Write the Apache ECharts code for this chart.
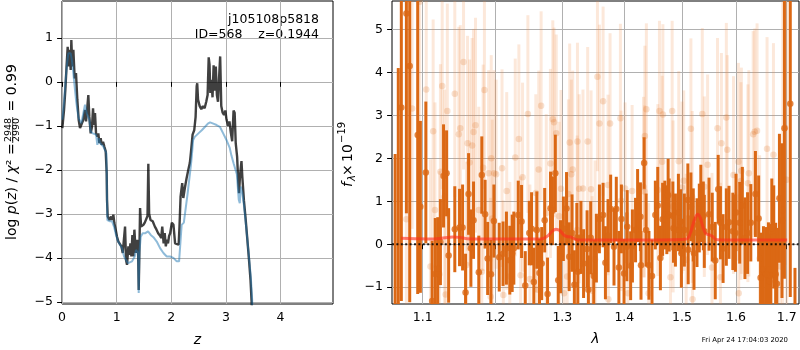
<!DOCTYPE html>
<html><head><meta charset="utf-8">
<script src="https://cdn.jsdelivr.net/npm/echarts@6/dist/echarts.min.js"></script>
<style>html,body{margin:0;padding:0;background:#fff}#c{width:800px;height:350px}</style>
</head><body><div id="c"></div>
<script>
// ---------- Left panel: log p(z) ----------
const zDark = [0.006,0.037,0.061,0.085,0.104,0.122,0.140,0.159,0.171,0.189,0.208,0.232,0.256,0.281,0.305,0.330,0.360,0.390,0.421,0.440,0.464,0.482,0.500,0.525,0.549,0.568,0.586,0.604,0.623,0.647,0.665,0.684,0.708,0.726,0.751,0.775,0.800,0.818,0.824,0.836,0.867,0.897,0.916,0.940,0.958,0.983,1.007,1.032,1.062,1.087,1.111,1.136,1.154,1.172,1.190,1.215,1.233,1.252,1.270,1.288,1.306,1.325,1.349,1.374,1.392,1.404,1.416,1.429,1.447,1.470,1.490,1.515,1.540,1.565,1.580,1.595,1.620,1.660,1.700,1.730,1.760,1.795,1.815,1.835,1.860,1.880,1.900,1.920,1.940,1.960,1.980,2.010,2.040,2.070,2.100,2.135,2.150,2.170,2.200,2.220,2.250,2.280,2.310,2.340,2.360,2.390,2.420,2.445,2.465,2.475,2.490,2.520,2.550,2.580,2.610,2.640,2.665,2.685,2.700,2.715,2.735,2.755,2.775,2.795,2.815,2.835,2.855,2.875,2.895,2.915,2.940,2.965,2.990,3.010,3.040,3.065,3.090,3.115,3.140,3.160,3.180,3.205,3.225,3.240,3.260,3.285,3.300,3.330,3.360,3.390,3.420,3.450,3.470,3.490,3.500];
const logpDark = [-1.05,-0.64,-0.18,0.39,0.80,0.35,0.73,0.27,0.95,0.35,0.73,0.08,0.20,-0.41,-0.86,-1.05,-1.05,-0.86,-0.64,-0.90,-0.56,-0.30,-0.79,-1.17,-1.02,-0.60,-0.98,-0.71,-1.17,-1.24,-1.17,-1.39,-1.28,-1.43,-1.36,-1.47,-1.58,-2.08,-2.68,-3.06,-3.14,-3.06,-3.14,-3.02,-3.21,-3.36,-3.52,-3.63,-3.67,-3.74,-3.89,-3.86,-3.29,-4.05,-4.16,-3.74,-3.93,-3.67,-3.97,-3.48,-3.97,-3.36,-3.89,-3.59,-3.82,-4.73,-3.89,-2.87,-3.29,-3.28,-3.25,-3.20,-3.17,-3.05,-1.86,-3.00,-3.14,-3.17,-3.29,-3.36,-3.44,-3.50,-3.55,-3.29,-3.67,-3.44,-3.74,-3.59,-3.67,-3.50,-3.44,-3.20,-3.25,-3.67,-3.70,-3.70,-3.30,-2.61,-2.30,-2.64,-2.40,-2.19,-2.01,-1.84,-1.60,-1.20,-1.10,-0.80,-0.10,-0.03,-0.40,-0.55,-0.62,-0.55,-0.60,-0.45,-0.30,0.56,0.40,-0.25,0.05,-0.35,0.38,-0.20,0.35,-0.30,-0.45,0.10,0.58,-0.55,-0.70,-0.75,-0.65,-0.85,-1.00,-0.90,-1.15,-1.35,-0.65,-0.70,-1.40,-1.70,-2.25,-2.53,-2.10,-1.80,-2.15,-2.70,-3.10,-3.55,-4.00,-4.50,-5.00,-5.40,-5.60];
const zBlue = [0.006,0.040,0.070,0.095,0.116,0.140,0.159,0.180,0.195,0.215,0.238,0.260,0.281,0.300,0.317,0.354,0.390,0.421,0.452,0.476,0.500,0.525,0.562,0.586,0.623,0.647,0.672,0.696,0.726,0.757,0.788,0.812,0.818,0.824,0.830,0.879,0.916,0.952,0.989,1.026,1.062,1.099,1.136,1.172,1.209,1.245,1.282,1.306,1.331,1.355,1.380,1.392,1.404,1.416,1.441,1.477,1.526,1.575,1.624,1.673,1.734,1.795,1.856,1.917,1.978,2.039,2.100,2.143,2.190,2.230,2.300,2.357,2.375,2.400,2.430,2.497,2.558,2.619,2.670,2.710,2.770,2.830,2.890,2.950,3.010,3.070,3.100,3.140,3.200,3.235,3.254,3.270,3.300,3.333,3.370,3.410,3.455,3.480,3.490,3.500];
const logpBlue = [-0.86,-0.40,0.10,0.45,0.65,0.68,0.65,0.50,0.35,0.10,-0.18,-0.45,-0.64,-0.80,-0.86,-0.94,-0.71,-0.52,-0.71,-0.79,-0.86,-1.13,-1.17,-1.17,-1.20,-1.43,-1.28,-1.39,-1.39,-1.47,-1.51,-1.62,-2.08,-2.68,-3.14,-3.17,-3.17,-3.29,-3.48,-3.63,-3.70,-3.78,-3.97,-4.05,-4.12,-4.12,-4.08,-4.12,-3.97,-3.82,-3.78,-3.89,-4.80,-3.89,-3.52,-3.44,-3.44,-3.40,-3.48,-3.53,-3.63,-3.78,-3.89,-3.97,-3.97,-4.00,-4.08,-4.08,-3.25,-3.20,-2.53,-1.92,-1.70,-1.32,-1.25,-1.17,-1.10,-1.02,-0.95,-0.92,-0.95,-0.98,-1.02,-1.17,-1.32,-1.50,-1.67,-1.85,-2.10,-2.68,-2.76,-2.38,-2.53,-2.83,-3.29,-3.82,-4.42,-4.95,-5.41,-5.60];
const zTicks = [0, 1, 2, 3, 4];
const logpTicks = [-5, -4, -3, -2, -1, 0, 1];

// ---------- Right panel: spectrum ----------
const specLamDark = [1.0644,1.0684,1.0723,1.0788,1.0831,1.0935,1.0970,1.1042,1.1125,1.1167,
1.1200,1.1236,1.1278,1.1319,1.1347,1.1431,1.1496,1.1538,1.1579,1.1621,
1.1653,1.1690,1.1764,1.1806,1.1853,1.1889,1.1936,1.1978,1.2055,1.2110,
1.2159,1.2208,1.2243,1.2332,1.2381,1.2436,1.2496,1.2530,1.2564,1.2609,
1.2649,1.2683,1.2728,1.2772,1.2817,1.2847,1.2891,1.2936,1.2971,1.3016,
1.3065,1.3107,1.3151,1.3188,1.3243,1.3292,1.3334,1.3390,1.3411,1.3497,
1.3589,1.3649,1.3687,1.3773,1.3828,1.3866,1.3909,1.3951,1.3995,1.4048,
1.4106,1.4189,1.4224,1.4272,1.4335,1.4471,1.4529,1.4571,1.4617,1.4656,
1.4695,1.4753,1.4847,1.4935,1.4974,1.5105,1.5160,1.5203,1.5271,1.5341,
1.5387,1.5492,1.5552,1.5608,1.5663,1.5705,1.5755,1.5816,1.5866,1.5940,
1.6000,1.6071,1.6122,1.6172,1.6286,1.6376,1.6439,1.6477,1.6534,1.6586,
1.6633,1.6681,1.6777,1.6853,1.6904,1.6954,1.7073,1.7169,
1.2267,1.3227,1.3448,1.3540,1.3730,1.4042,1.4136,1.4282,1.4370,1.4418,
1.4730,1.4771,1.4836,1.4882,1.4988,1.5042,1.5111,1.5216,1.5313,1.5405,
1.5989,1.6223,1.6650,1.6700,1.6739,1.6802];
const specFluxDark = [-1.8,-1.6,3.18,5.37,4.15,2.54,0.87,1.67,-1.32,-0.69,
-0.57,0.05,1.59,1.65,-0.26,0.35,0.39,0.39,-1.12,1.17,
-0.09,0.56,-0.65,1.61,0.70,-0.33,-0.70,0.54,-0.30,-0.22,
-0.09,-0.37,-0.21,0.68,0.53,-0.96,0.26,0.36,-0.88,0.33,
-0.67,-0.45,0.56,-1.16,0.84,0.78,1.65,-0.84,-0.29,0.36,
0.83,-0.29,0.26,-0.94,-0.64,0.16,-0.45,-0.11,-1.06,-0.74,
0.59,0.68,-0.43,0.82,-0.06,0.82,-0.54,0.59,-0.68,0.41,
-0.50,0.33,0.90,0.64,1.89,-0.74,0.68,0.90,-0.32,0.58,
0.68,1.14,0.37,0.74,0.53,1.03,0.87,0.45,0.27,0.95,
0.66,0.70,0.40,-0.38,1.28,0.50,-0.10,0.40,0.51,0.30,
0.74,0.50,0.90,0.14,0.50,1.17,0.60,-0.78,-0.58,-0.70,
-0.59,-0.73,-0.70,1.07,0.55,2.70,3.27,-2.00,
-0.09,0.16,0.15,-0.09,0.20,-0.06,-0.04,-0.49,0.33,-0.49,
0.57,0.68,0.66,0.33,-0.21,0.33,-0.13,-0.21,0.61,0.30,
0.26,0.26,-0.86,0.38,0.17,-0.92];
const specErrDark = [3.9,5.7,4.5,4.65,5.5,3.7,2.0,1.65,1.4,1.3,
1.2,1.0,1.2,1.0,1.1,1.0,0.9,1.0,0.9,0.95,
0.9,0.9,0.85,0.9,0.8,0.85,0.8,0.85,0.8,0.75,
0.85,0.8,0.9,0.8,0.85,0.8,0.75,0.85,0.8,0.9,
0.8,0.85,0.75,0.85,0.85,0.8,0.9,0.8,0.85,0.75,
0.85,0.8,0.9,0.8,0.75,0.85,0.8,0.9,0.8,0.85,
0.8,0.75,0.85,0.8,0.9,0.75,0.85,0.8,0.8,0.85,
0.8,0.75,0.85,0.8,0.6,0.85,0.8,0.9,0.75,0.85,
0.8,0.85,0.8,0.9,0.75,0.85,0.8,0.85,0.8,0.9,
0.8,0.85,0.8,0.9,0.8,0.85,0.8,0.9,0.85,0.9,
0.9,0.95,0.9,0.95,0.9,1.0,1.0,1.05,1.0,1.1,
1.1,1.2,1.2,1.5,1.8,3.5,4.5,1.45,
0.85,0.8,0.85,0.8,0.85,0.8,0.85,0.8,0.85,0.8,
0.8,0.85,0.8,0.85,0.8,0.85,0.8,0.85,0.8,0.85,
0.9,0.95,1.1,1.15,1.2,1.3];

const specLamFaint = [1.0788,1.0862,1.0961,1.1047,1.1103,1.1139,1.1163,1.1222,1.1236,1.1260,
1.1292,1.1306,1.1329,1.1431,1.1486,1.1506,1.1551,1.1593,1.1607,1.1635,
1.1670,1.1690,1.1718,1.1764,1.1806,1.1825,1.1843,1.1903,1.1931,1.1940,
1.1954,1.1982,1.2010,1.2095,1.2114,1.2163,1.2208,1.2288,1.2341,1.2367,
1.2396,1.2475,1.2505,1.2594,1.2614,1.2638,1.2674,1.2752,1.2816,1.2852,
1.2871,1.2905,1.2950,1.2979,1.3026,1.3075,1.3094,1.3114,1.3140,1.3162,
1.3232,1.3237,1.3264,1.3325,1.3399,1.3454,1.3471,1.3519,1.3557,1.3589,
1.3649,1.3730,1.3735,1.3763,1.3935,1.3946,1.4012,1.4060,1.4131,1.4325,
1.4342,1.4348,1.4374,1.4413,1.4572,1.4600,1.4648,1.4660,1.4794,1.4824,
1.4841,1.4942,1.5000,1.5031,1.5074,1.5160,1.5184,1.5190,1.5368,1.5405,
1.5466,1.5547,1.5650,1.5705,1.5723,1.5816,1.5834,1.5952,1.6046,1.6052,
1.6095,1.6103,1.6229,1.6248,1.6332,1.6362,1.6408,1.6458,1.6605,1.6733,
1.6872,1.6920,1.6968,1.7000];
const specFluxFaint = [0.58,3.16,5.64,3.60,-0.52,2.63,0.80,-0.70,1.69,3.68,
1.10,-1.17,3.10,3.50,2.56,2.70,4.24,-0.48,2.35,1.90,
2.30,2.61,2.77,0.80,-0.64,1.78,3.59,1.65,-1.22,2.00,
0.60,1.65,1.63,1.77,-1.18,1.24,-0.75,2.02,2.45,-0.72,
1.56,3.03,-0.81,1.19,-1.06,1.74,3.22,0.73,1.88,2.91,
2.84,2.58,0.65,1.29,-1.14,-0.75,1.17,2.37,1.63,1.74,
0.33,2.39,1.29,1.30,2.39,1.28,-1.08,-0.35,3.90,2.81,
3.33,1.38,-1.28,2.81,2.93,1.01,1.30,-1.14,1.24,1.33,
1.23,2.52,3.14,-1.14,1.26,3.10,1.92,3.02,-0.77,3.10,
0.88,1.93,1.32,1.48,-0.36,2.69,1.10,-1.28,3.03,1.34,
1.85,-0.54,2.70,-0.77,2.35,2.95,2.20,1.61,1.92,-1.14,
1.47,1.71,1.42,1.65,2.56,2.62,2.64,-0.33,2.22,2.08,
-0.52,0.80,2.71,1.50];
const specErrFaint = [3.0,2.8,3.0,2.6,2.5,2.6,2.5,2.4,2.5,2.4,
2.5,2.4,2.5,2.4,2.5,2.4,2.5,2.4,2.5,2.4,
2.5,2.4,2.5,2.4,2.3,2.4,2.3,2.4,2.3,2.4,
2.3,2.4,2.2,2.3,2.2,2.3,2.2,2.3,2.2,2.3,
2.2,2.3,2.2,2.3,2.2,2.3,2.2,2.3,2.2,2.3,
2.2,2.3,2.2,2.3,2.2,2.3,2.2,2.3,2.2,2.3,
2.2,2.3,2.2,2.3,2.2,2.3,2.2,2.3,2.2,2.3,
2.2,2.1,2.2,2.1,2.2,2.1,2.0,2.1,2.0,2.1,
2.0,2.1,2.0,2.1,2.0,2.1,2.0,2.1,2.0,2.1,
2.0,2.1,2.0,2.1,2.0,2.1,2.0,2.1,2.0,2.1,
2.1,2.2,2.1,2.2,2.1,2.2,2.2,2.3,2.3,2.3,
2.3,2.4,2.3,2.4,2.4,2.4,2.5,2.4,2.6,2.6,
2.7,5.0,3.2,5.0];

const modelLam = [1.072,1.09,1.11,1.125,1.14,1.15,1.16,1.18,1.20,1.22,1.24,1.26,1.270,1.278,1.284,1.290,1.296,1.302,1.307,1.313,1.318,1.325,1.35,1.40,1.45,1.50,1.510,1.516,1.522,1.528,1.533,1.538,1.543,1.550,1.556,1.562,1.58,1.62,1.66,1.701];
const modelFlux = [0.14,0.13,0.12,0.14,0.17,0.16,0.13,0.12,0.12,0.12,0.12,0.12,0.13,0.20,0.30,0.35,0.32,0.22,0.18,0.17,0.13,0.10,0.10,0.10,0.10,0.11,0.13,0.30,0.55,0.70,0.62,0.40,0.25,0.22,0.18,0.11,0.10,0.10,0.10,0.10];
const lamTicks = [1.1, 1.2, 1.3, 1.4, 1.5, 1.6, 1.7];
const fluxTicks = [-1, 0, 1, 2, 3, 4, 5];
const lamRange = [1.0604, 1.7252];

// ---------- build ----------
const FONT = '"DejaVu Sans", sans-serif';
const minus = v => String(v).replace('-', '\u2212');
const L = Math.log;
const ORANGE = '#db6814';

function axisCommon(ticks, fmt, margin) {
  return {
    axisLine: {show: false},
    axisTick: {show: true, inside: false, length: 4.9, lineStyle: {color: '#000', width: 1}, customValues: ticks},
    axisLabel: {customValues: ticks, formatter: fmt, color: '#000', fontFamily: FONT, fontSize: 12.5, margin: margin},
    splitLine: {show: true, lineStyle: {color: '#b0b0b0', width: 1}}
  };
}

function errRender(color, width) {
  return function (params, api) {
    const x = api.value(0), lo = api.value(1), hi = api.value(2);
    const p0 = api.coord([x, lo]), p1 = api.coord([x, hi]);
    const cs = params.coordSys;
    const top = Math.max(Math.min(p0[1], p1[1]), cs.y);
    const bot = Math.min(Math.max(p0[1], p1[1]), cs.y + cs.height);
    if (p0[0] < cs.x || p0[0] > cs.x + cs.width || top >= bot) return null;
    return {type: 'line', shape: {x1: p0[0], y1: top, x2: p0[0], y2: bot},
            style: {stroke: color, lineWidth: width}};
  };
}

const chart = echarts.init(document.getElementById('c'), null, {renderer: 'canvas'});
const gridStyle = {show: true, borderColor: '#000', borderWidth: 1, backgroundColor: 'transparent'};
const T = (x, y, text, font, align, rot) => ({type: 'text', x: x, y: y, rotation: rot || 0,
  style: {text: text, fill: '#000', font: font, align: align, verticalAlign: 'middle', textAlign: align, textVerticalAlign: 'middle'}});

const option = {
  animation: false,
  backgroundColor: '#fff',
  grid: [
    Object.assign({left: 62, top: 1, width: 271, height: 303}, gridStyle),
    Object.assign({left: 392, top: 1, width: 407, height: 303}, gridStyle)
  ],
  xAxis: [
    Object.assign({type: 'value', gridIndex: 0, min: 0, max: 4.96}, axisCommon(zTicks, v => minus(v), 7)),
    Object.assign({type: 'value', gridIndex: 1, min: L(lamRange[0]), max: L(lamRange[1])},
      axisCommon(lamTicks.map(L), v => Math.exp(v).toFixed(1), 7))
  ],
  yAxis: [
    Object.assign({type: 'value', gridIndex: 0, min: -5.05, max: 1.84}, axisCommon(logpTicks, v => minus(v), 9)),
    Object.assign({type: 'value', gridIndex: 1, min: -1.39, max: 5.66}, axisCommon(fluxTicks, v => minus(v), 9))
  ],
  series: [
    {type: 'line', xAxisIndex: 0, yAxisIndex: 0, showSymbol: false, clip: true,
     data: zDark.map((z, i) => [z, logpDark[i]]),
     lineStyle: {color: '#000', opacity: 0.75, width: 2.4}},
    {type: 'line', xAxisIndex: 0, yAxisIndex: 0, showSymbol: false, clip: true,
     data: zBlue.map((z, i) => [z, logpBlue[i]]),
     lineStyle: {color: '#1f77b4', opacity: 0.5, width: 2}},
    {type: 'custom', xAxisIndex: 1, yAxisIndex: 1, renderItem: errRender('rgba(240,140,70,0.2)', 3),
     encode: {x: 0, y: [1, 2]},
     data: specLamFaint.map((l, i) => [L(l), specFluxFaint[i] - specErrFaint[i], specFluxFaint[i] + specErrFaint[i]])},
    {type: 'scatter', xAxisIndex: 1, yAxisIndex: 1, clip: true, symbolSize: 6.5,
     itemStyle: {color: ORANGE, opacity: 0.2},
     data: specLamFaint.map((l, i) => [L(l), specFluxFaint[i]])},
    {type: 'custom', xAxisIndex: 1, yAxisIndex: 1, renderItem: errRender(ORANGE, 3),
     encode: {x: 0, y: [1, 2]},
     data: specLamDark.map((l, i) => [L(l), specFluxDark[i] - specErrDark[i], specFluxDark[i] + specErrDark[i]])},
    {type: 'scatter', xAxisIndex: 1, yAxisIndex: 1, clip: true, symbolSize: 6.5,
     itemStyle: {color: ORANGE},
     data: specLamDark.map((l, i) => [L(l), specFluxDark[i]])},
    {type: 'line', xAxisIndex: 1, yAxisIndex: 1, showSymbol: false, smooth: 0.3, clip: true,
     data: modelLam.map((l, i) => [L(l), modelFlux[i]]),
     lineStyle: {color: '#ff2d1e', opacity: 0.62, width: 3}},
    {type: 'line', xAxisIndex: 1, yAxisIndex: 1, showSymbol: false, clip: true,
     data: [[L(lamRange[0]), 0], [L(lamRange[1]), 0]],
     lineStyle: {color: '#000', width: 2, type: [2, 2.4], opacity: 0.85}}
  ],
  graphic: [
    T(319, 20, 'j105108p5818', '12.5px ' + FONT, 'right'),
    T(319, 35, 'ID=568    z=0.1944', '12.5px ' + FONT, 'right'),
    // left y label
    {type: 'text', x: 12, y: 240, rotation: Math.PI / 2, style: {
      text: '{n|log }{i|p}{n|(}{i|z}{n|) / }{i|χ}{n|² = }', fill: '#000', font: '14px ' + FONT,
      align: 'left', verticalAlign: 'middle', textAlign: 'left', textVerticalAlign: 'middle',
      rich: {n: {fontFamily: FONT, fontSize: 14, fill: '#000', color: '#000'},
             i: {fontFamily: FONT, fontSize: 14, fontStyle: 'italic', fill: '#000', color: '#000'}}}},
    T(8.5, 130, '2948', '9.5px ' + FONT, 'center', Math.PI / 2),
    T(17, 130, '2990', '9.5px ' + FONT, 'center', Math.PI / 2),
    {type: 'line', shape: {x1: 12.7, y1: 143, x2: 12.7, y2: 117}, style: {stroke: '#000', lineWidth: 0.8}},
    T(12, 116, ' = 0.99', '14px ' + FONT, 'left', Math.PI / 2),
    // right y label
    T(348, 187, 'f', 'italic 14px ' + FONT, 'left', Math.PI / 2),
    T(352, 181, 'λ', 'italic 10px ' + FONT, 'left', Math.PI / 2),
    T(348, 176, '×', '14px ' + FONT, 'left', Math.PI / 2),
    T(348, 162, '10', '14px ' + FONT, 'left', Math.PI / 2),
    T(342, 143, '\u221219', '10px ' + FONT, 'left', Math.PI / 2),
    // x labels
    T(197.5, 340, 'z', 'italic 14px ' + FONT, 'center'),
    T(595.5, 339, 'λ', 'italic 14px ' + FONT, 'center'),
    T(788, 340, 'Fri Apr 24 17:04:03 2020', '6.9px ' + FONT, 'right')
  ]
};
chart.setOption(option);
</script>
</body></html>
